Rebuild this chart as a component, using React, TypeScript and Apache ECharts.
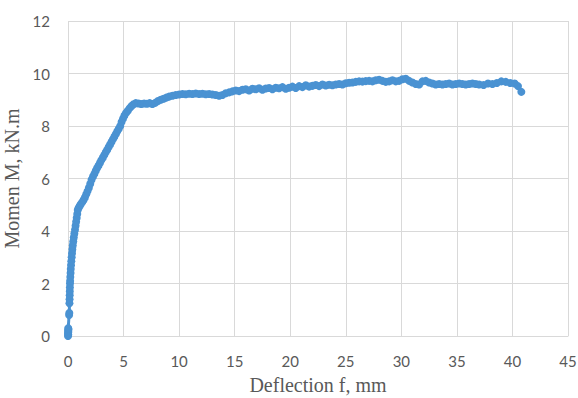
import React, { useEffect, useRef } from "react";
import * as echarts from "echarts";

const deflection: number[] = [
  0.0, 0.02, 0.0, 0.03, 0.01, 0.04, 0.02,
  0.1, 0.12,
  0.13, 0.14, 0.15, 0.16, 0.17, 0.18, 0.19, 0.21, 0.23, 0.25, 0.27, 0.3, 0.33, 0.36, 0.39, 0.43, 0.47, 0.52, 0.57, 0.63, 0.68, 0.73, 0.78, 0.83, 0.88, 0.95,
  1.05, 1.15, 1.28, 1.4, 1.52, 1.64, 1.76, 1.88, 2.0, 2.12, 2.25, 2.38, 2.5, 2.62, 2.75, 2.88, 3.0, 3.14, 3.27, 3.4, 3.53, 3.66, 3.79, 3.92,
  4.05, 4.18, 4.31, 4.44, 4.57, 4.7, 4.82, 4.95, 5.08, 5.22, 5.38, 5.55, 5.72, 5.9, 6.1, 6.35, 6.6, 6.85, 7.1, 7.35, 7.6, 7.85,
  8.1, 8.35, 8.6, 8.85, 9.1, 9.4, 9.7, 10.0, 10.3, 10.6, 10.9, 11.2, 11.5, 11.8, 12.1, 12.4, 12.7, 13.0, 13.3, 13.6, 13.9,
  14.2, 14.5, 14.8, 15.1, 15.4, 15.7, 16.0, 16.3, 16.6, 16.9, 17.2, 17.5, 17.8, 18.1, 18.4, 18.7, 19.0, 19.3, 19.6, 19.9,
  20.2, 20.5, 20.8, 21.1, 21.4, 21.7, 22.0, 22.3, 22.6, 22.9, 23.2, 23.5, 23.8, 24.1, 24.4, 24.7, 25.0, 25.3, 25.6, 25.9,
  26.2, 26.5, 26.8, 27.1, 27.4, 27.7, 28.0, 28.3, 28.6, 28.9, 29.2, 29.5, 29.8, 30.1, 30.4, 30.7, 31.0, 31.3, 31.6, 31.9,
  32.2, 32.5, 32.8, 33.1, 33.4, 33.7, 34.0, 34.3, 34.6, 34.9, 35.2, 35.5, 35.8, 36.1, 36.4, 36.7, 37.0, 37.4, 37.8,
  38.2, 38.6, 39.0, 39.4, 39.8, 40.2, 40.5, 40.8,
];

const moment: number[] = [
  0.0, 0.05, 0.1, 0.15, 0.2, 0.25, 0.3,
  0.8, 0.88,
  1.25, 1.4, 1.55, 1.7, 1.85, 2.0, 2.1, 2.25, 2.4, 2.55, 2.7, 2.85, 3.0, 3.15, 3.3, 3.45, 3.6, 3.75, 3.9, 4.05, 4.2, 4.35, 4.5, 4.65, 4.8, 4.88,
  4.95, 5.02, 5.1, 5.18, 5.28, 5.4, 5.52, 5.65, 5.8, 5.95, 6.08, 6.18, 6.3, 6.4, 6.5, 6.6, 6.7, 6.8, 6.9, 7.0, 7.1, 7.2, 7.3, 7.4,
  7.5, 7.6, 7.7, 7.8, 7.9, 8.0, 8.15, 8.28, 8.4, 8.5, 8.58, 8.68, 8.76, 8.83, 8.87, 8.86, 8.84, 8.86, 8.85, 8.87, 8.84, 8.88,
  8.95, 9.0, 9.04, 9.08, 9.12, 9.15, 9.18, 9.2, 9.22, 9.21, 9.23, 9.22, 9.24, 9.22, 9.23, 9.21, 9.22, 9.2, 9.18, 9.15, 9.18,
  9.25, 9.28, 9.32, 9.35, 9.33, 9.38, 9.4, 9.35, 9.42, 9.4, 9.44, 9.38, 9.43, 9.45, 9.4, 9.46, 9.44, 9.48, 9.42, 9.46,
  9.5, 9.45, 9.52, 9.48, 9.55, 9.5, 9.53, 9.56, 9.52, 9.58, 9.54, 9.57, 9.55, 9.58, 9.6, 9.58, 9.63, 9.65, 9.66, 9.68,
  9.7, 9.69, 9.71, 9.72, 9.7, 9.74, 9.76, 9.72, 9.68, 9.7, 9.74, 9.7, 9.72, 9.78, 9.8, 9.72, 9.66, 9.6, 9.58, 9.7,
  9.72, 9.66, 9.62, 9.58, 9.6, 9.58, 9.6, 9.62, 9.58, 9.6, 9.62, 9.6, 9.58, 9.6, 9.62, 9.6, 9.58, 9.56, 9.62,
  9.6, 9.64, 9.7, 9.68, 9.64, 9.62, 9.52, 9.3,
];

const xTicks = { min: 0, max: 45, interval: 5 };
const yTicks = { min: 0, max: 12, interval: 2 };

export default function App() {
  const ref = useRef<HTMLDivElement>(null);
  useEffect(() => {
    if (!ref.current) return;
    const chart = echarts.init(ref.current, null, { renderer: "svg" });
    const data = deflection.map((x, i) => [x, moment[i]]);
    const labelStyle = { color: "#595959", fontSize: 15, fontFamily: "Lato" };
    const nameStyle = { color: "#595959", fontSize: 20, fontFamily: "Liberation Serif" };
    chart.setOption({
      animation: false,
      backgroundColor: "#ffffff",
      grid: { left: 68, right: 10, top: 21, bottom: 62, containLabel: false, outerBoundsMode: "none" },
      xAxis: {
        type: "value",
        min: xTicks.min,
        max: xTicks.max,
        interval: xTicks.interval,
        name: "Deflection f, mm",
        nameLocation: "middle",
        nameGap: 39,
        nameTextStyle: nameStyle,
        axisLine: { show: true, lineStyle: { color: "#d9d9d9", width: 1 } },
        axisTick: { show: false },
        axisLabel: { ...labelStyle, margin: 17 },
        splitLine: { show: true, lineStyle: { color: "#d9d9d9", width: 1 } },
      },
      yAxis: {
        type: "value",
        min: yTicks.min,
        max: yTicks.max,
        interval: yTicks.interval,
        name: "Momen M, kN.m",
        nameLocation: "middle",
        nameGap: 46,
        nameTextStyle: nameStyle,
        axisLine: { show: false },
        axisTick: { show: false },
        axisLabel: { ...labelStyle, margin: 18 },
        splitLine: { show: true, lineStyle: { color: "#d9d9d9", width: 1 } },
      },
      series: [
        {
          type: "line",
          data,
          symbol: "circle",
          symbolSize: 8,
          showAllSymbol: true,
          lineStyle: { color: "#4a92d2", width: 3 },
          itemStyle: { color: "#4a92d2" },
        },
      ],
    });
    return () => chart.dispose();
  }, []);
  return <div ref={ref} style={{ width: 578, height: 398, position: "absolute", left: 0, top: 0 }} />;
}
